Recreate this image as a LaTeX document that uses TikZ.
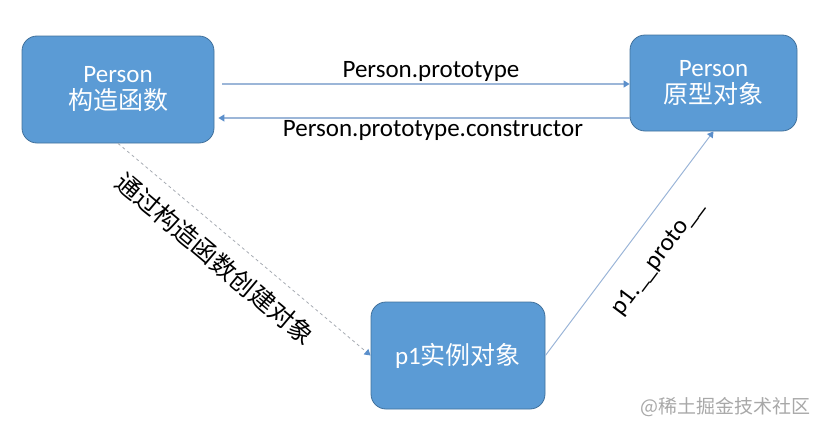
\documentclass[tikz,border=0pt]{standalone}
\usepackage{fontspec}
\setmainfont{Carlito}
\newfontfamily\cjk{Noto Sans CJK SC}
\usetikzlibrary{arrows.meta,calc}
\definecolor{boxblue}{HTML}{5B9BD5}
\definecolor{boxline}{HTML}{41719C}
\definecolor{linkblue}{HTML}{9CB6D8}
\definecolor{tipblue}{HTML}{5B8FCB}
\definecolor{markgray}{HTML}{A8A8A8}
\tikzset{
  objbox/.style={draw=boxline, line width=0.8pt, fill=boxblue, rounded corners=15pt,
    text=white, align=center, font=\fontsize{25}{28}\selectfont, inner sep=0pt},
  link/.style={draw=linkblue, line width=1.2pt, -{Triangle[width=7pt,length=6pt,color=tipblue]}},
  tag/.style={font=\fontsize{25}{28}\selectfont, inner sep=2pt}
}
\begin{document}
\begin{tikzpicture}[x=1pt, y=-1pt]
  \useasboundingbox (0, 0) rectangle (828, 431);
  \node[objbox, minimum width=192pt, minimum height=107pt] (ctor) at (118, 89.5) {Person\\[-1pt]{\cjk 构造函数}};
  \node[objbox, minimum width=167pt, minimum height=96pt] (proto) at (713.5, 83) {Person\\[-1pt]{\cjk 原型对象}};
  \node[objbox, minimum width=174pt, minimum height=107pt] (inst) at (458, 355.5) {p1{\cjk 实例对象}};

  \coordinate (top1) at ($(ctor.east |- proto.west)+(8, 1)$);
  \coordinate (top2) at ($(proto.west)+(0, 1)$);
  \draw[link] (top1) -- (top2) node[tag, midway, above, xshift=5pt] {Person.prototype};

  \coordinate (bot1) at ($(proto.west)+(0, 35)$);
  \coordinate (bot2) at ($(ctor.east |- bot1)+(4, 0)$);
  \draw[link] (bot1) -- (bot2) node[tag, midway, below, xshift=9pt] {Person.prototype.constructor};

  \draw[link, draw=markgray!80!linkblue, line width=0.8pt, dash pattern=on 3pt off 3pt] (ctor.south) -- (inst.west)
    node[tag, pos=0.45, sloped, below=12pt] {\cjk 通过构造函数创建对象};
  \draw[link, line width=1pt] (inst.east) -- (proto.south)
    node[tag, pos=0.52, sloped, below=19pt] {p1.\_\_proto\_\_};

  \node[text=markgray, font=\cjk\fontsize{19}{21}\selectfont, anchor=east] (mark) at (814, 407) {@稀土掘金技术社区};
\end{tikzpicture}
\end{document}
